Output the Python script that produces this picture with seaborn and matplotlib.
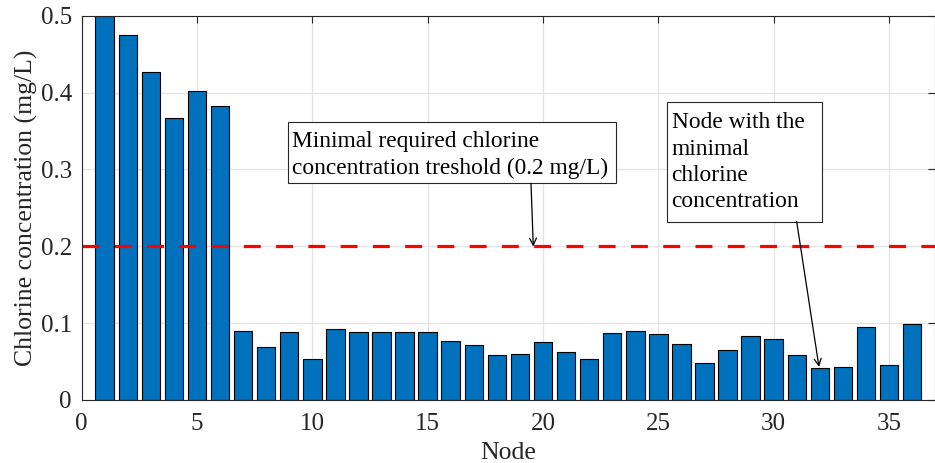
import matplotlib
matplotlib.use("Agg")
import matplotlib.pyplot as plt
from matplotlib.patches import Rectangle
import seaborn as sns
import pandas as pd
import numpy as np

# ---- data ----
nodes = list(range(1, 37))
chlorine = [0.500, 0.475, 0.427, 0.367, 0.402, 0.383,
            0.090, 0.069, 0.089, 0.0535, 0.093, 0.089,
            0.088, 0.088, 0.088, 0.077, 0.072, 0.059,
            0.060, 0.0755, 0.062, 0.053, 0.087, 0.090,
            0.0865, 0.0725, 0.048, 0.065, 0.083, 0.080,
            0.058, 0.0415, 0.043, 0.0955, 0.045, 0.0995]
threshold = 0.2
x_ticks = [0, 5, 10, 15, 20, 25, 30, 35]
y_ticks = [0, 0.1, 0.2, 0.3, 0.4, 0.5]
y_ticklabels = ["0", "0.1", "0.2", "0.3", "0.4", "0.5"]
label_threshold = "Minimal required chlorine\nconcentration treshold (0.2 mg/L)"
label_min = "Node with the\nminimal\nchlorine\nconcentration"

df = pd.DataFrame({"Node": nodes, "Chlorine": chlorine})

sns.set_style("white")
plt.rcParams["font.family"] = ["Liberation Serif", "DejaVu Serif"]

W, H = 935, 463
fig = plt.figure(figsize=(W / 100, H / 100), dpi=100)
left, right, top, bottom = 81.6, 935.2, 15.8, 400.0
ax = fig.add_axes([left / W, 1 - bottom / H, (right - left) / W, (bottom - top) / H])

ax.set_axisbelow(True)
ax.grid(True, color="#e3e3e3", linewidth=0.9)

sns.barplot(data=df, x="Node", y="Chlorine", native_scale=True, width=0.8,
            color="#0072BD", saturation=1, edgecolor="black", linewidth=0.8,
            ax=ax, zorder=2)

ax.axhline(threshold, color="#ff0000", linewidth=2.3, linestyle=(0, (5.3, 4.8)), zorder=3)

ax.set_xlim(0, 37)
ax.set_ylim(0, 0.5)
ax.set_xticks(x_ticks)
ax.set_xticklabels([str(t) for t in x_ticks])
ax.set_yticks(y_ticks)
ax.set_yticklabels(y_ticklabels)

axis_col = "#262626"
for s in ax.spines.values():
    s.set_visible(True)
    s.set_color(axis_col)
    s.set_linewidth(0.8)
    s.set_zorder(5)
ax.tick_params(direction="in", top=True, right=True, length=5, width=0.8,
               colors=axis_col, labelsize=18)
ax.tick_params(axis="x", pad=9)
ax.tick_params(axis="y", pad=7)
ax.set_xlabel("Node", fontsize=18.5, color=axis_col, labelpad=5.5)
ax.set_ylabel("Chlorine concentration (mg/L)", fontsize=18.5, color=axis_col, labelpad=2)

# pixel -> data helpers for annotation placement
def px2x(px):
    return (px - left) / (right - left) * 37

def py2y(py):
    return (bottom - py) / (bottom - top) * 0.5

ann_fs = 16.8
ann_ls = 1.33

# annotation box 1
ax.add_patch(Rectangle((px2x(288), py2y(183.3)), px2x(615.7) - px2x(288),
                       py2y(122.3) - py2y(183.3), facecolor="white",
                       edgecolor=axis_col, linewidth=0.8, zorder=6))
ax.text(px2x(292.5), py2y(131), label_threshold, fontsize=ann_fs, ha="left", va="top",
        color="black", zorder=7, linespacing=ann_ls)
ax.annotate("", xy=(px2x(533.3), py2y(246.5)), xytext=(px2x(531), py2y(183.3)),
            arrowprops=dict(arrowstyle="->,head_length=0.5,head_width=0.25",
                            color="black", linewidth=0.9, shrinkA=0, shrinkB=0),
            zorder=7)

# annotation box 2
ax.add_patch(Rectangle((px2x(666.7), py2y(221.7)), px2x(822.3) - px2x(666.7),
                       py2y(102.3) - py2y(221.7), facecolor="white",
                       edgecolor=axis_col, linewidth=0.8, zorder=6))
ax.text(px2x(671.5), py2y(112.5), label_min, fontsize=ann_fs, ha="left", va="top",
        color="black", zorder=7, linespacing=ann_ls)
ax.annotate("", xy=(px2x(819), py2y(367)), xytext=(px2x(796.7), py2y(221.7)),
            arrowprops=dict(arrowstyle="->,head_length=0.5,head_width=0.25",
                            color="black", linewidth=0.9, shrinkA=0, shrinkB=0),
            zorder=7)

fig.savefig("out.png", dpi=100)
